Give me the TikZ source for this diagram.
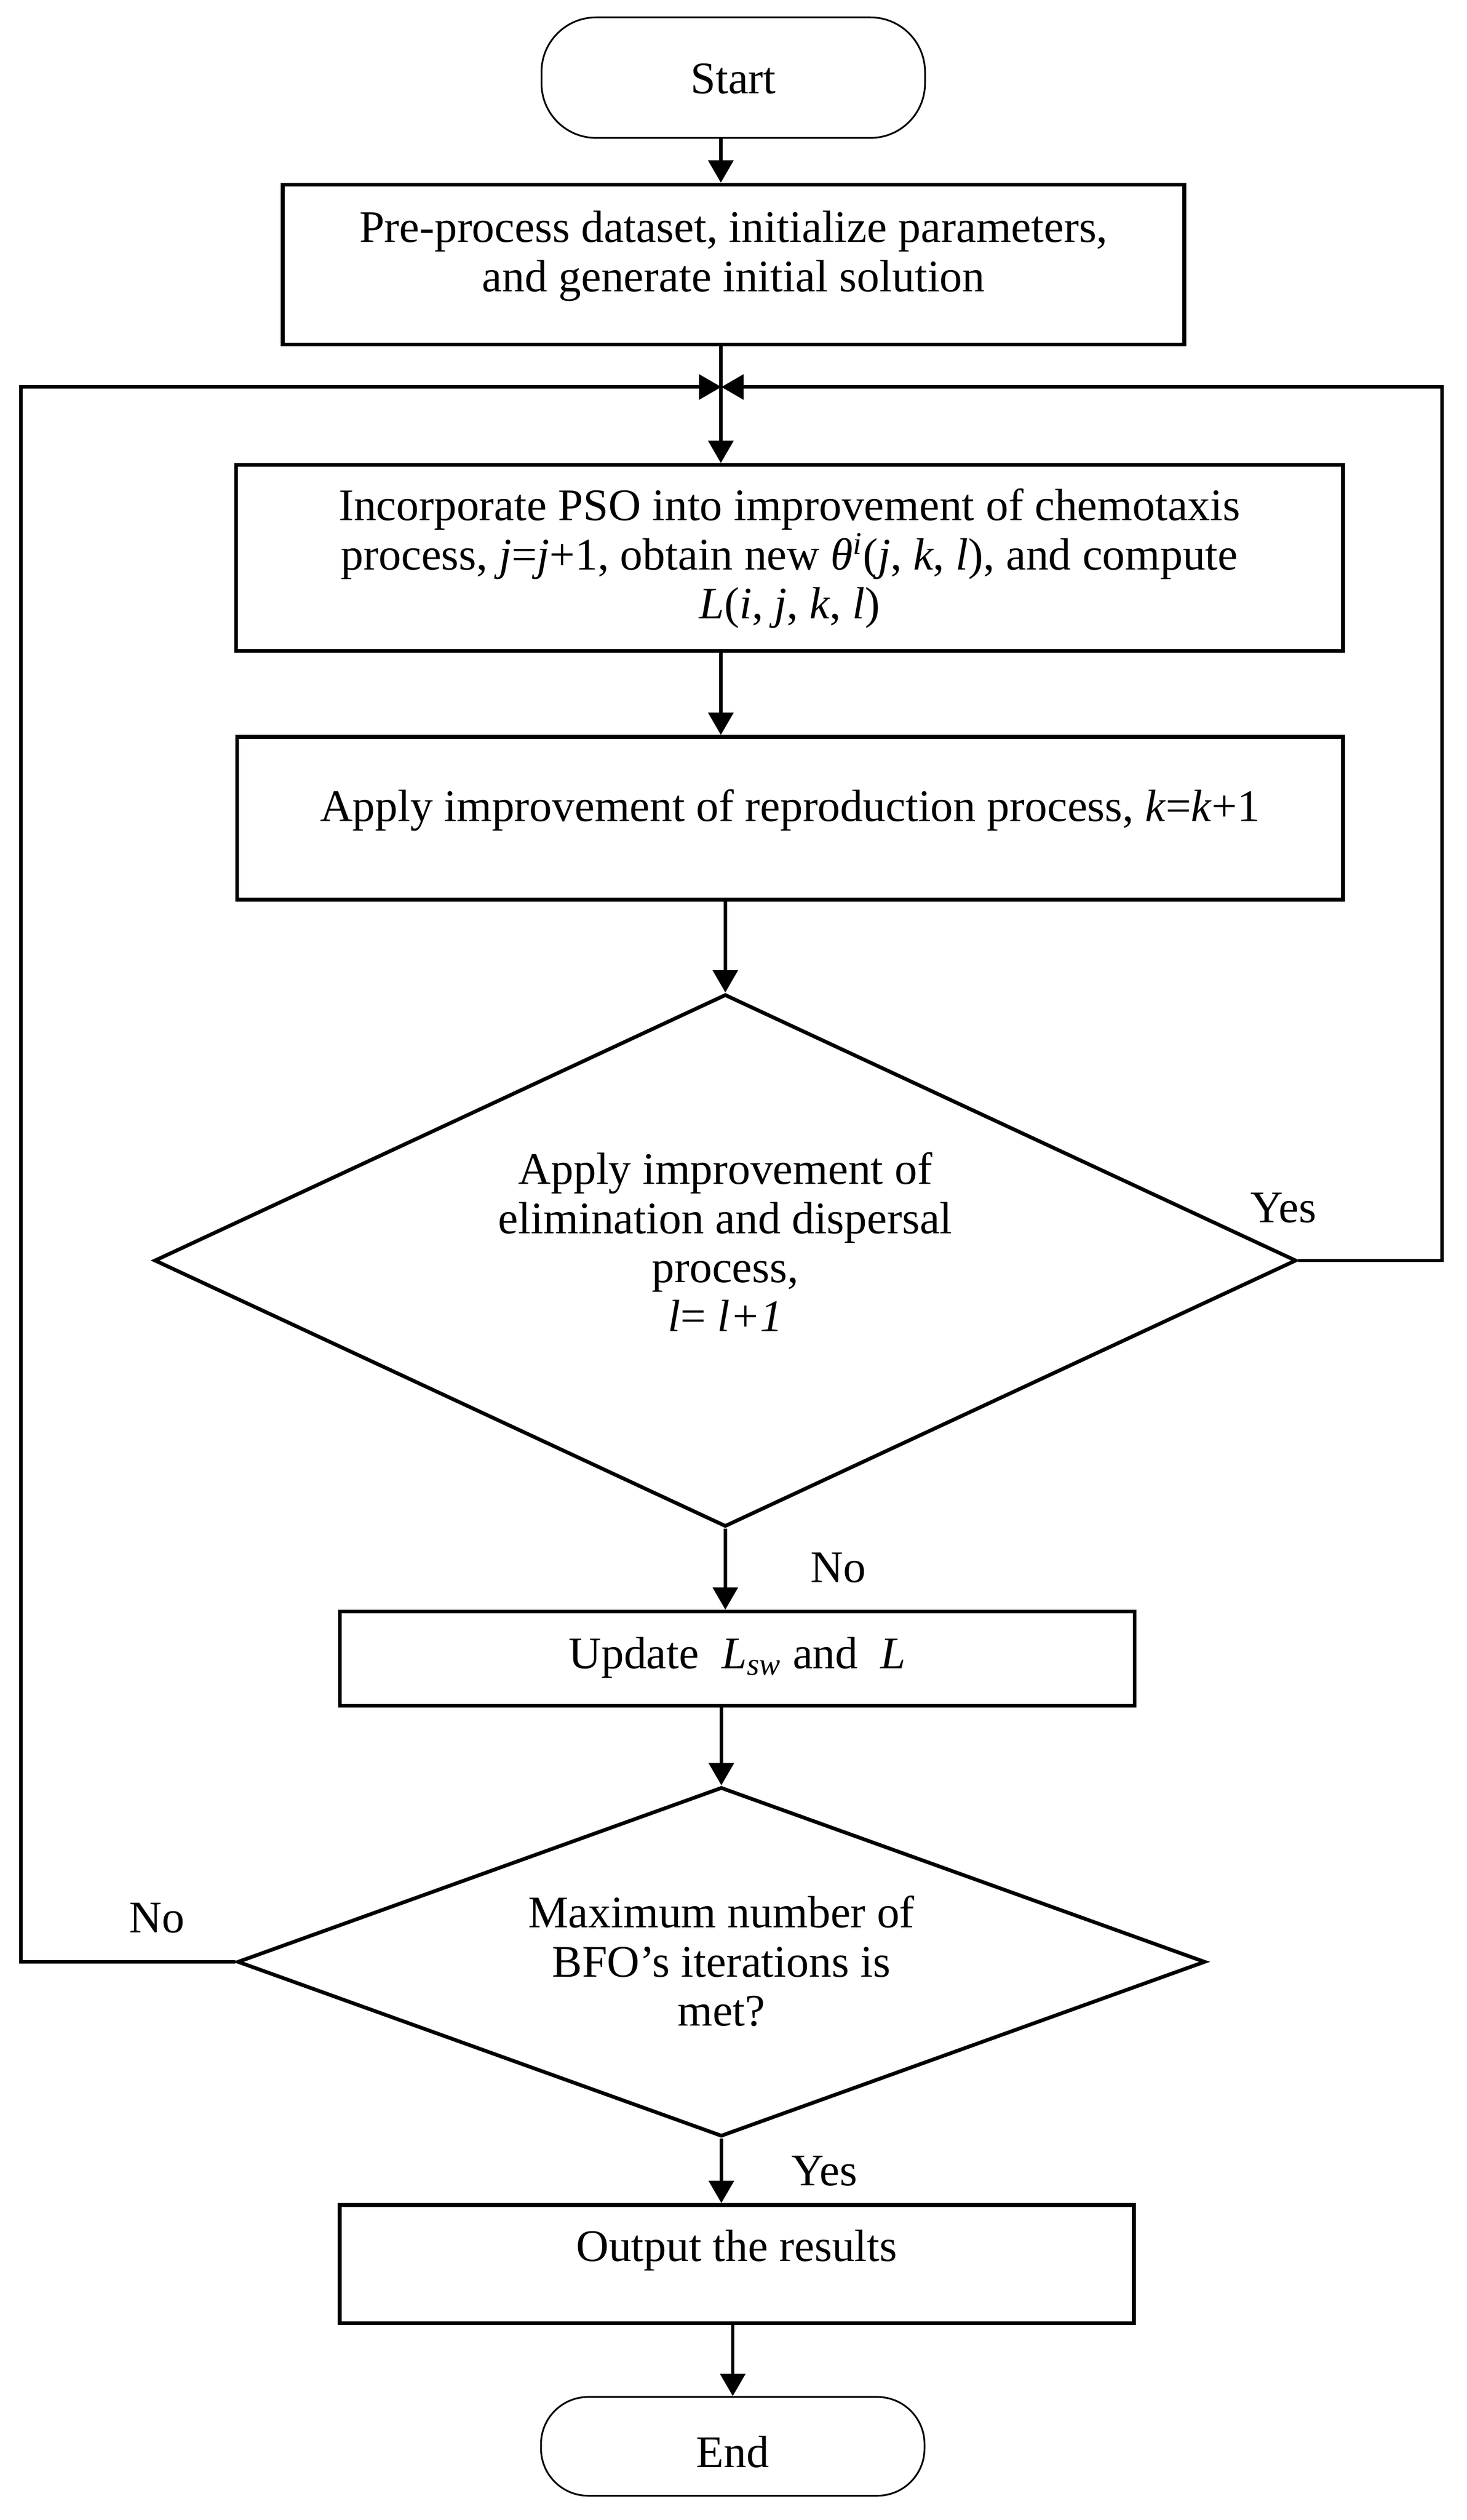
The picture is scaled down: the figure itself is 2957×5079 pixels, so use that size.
\documentclass[tikz,border=0pt]{standalone}
\usepackage{fontspec}
\setmainfont{Liberation Serif}
\usetikzlibrary{shapes.geometric,arrows.meta}
\newcommand{\tx}[2]{\raisebox{#1}[0pt][0pt]{\begin{tabular}{@{}c@{}}#2\end{tabular}}}
\begin{document}
\begin{tikzpicture}[x=0.2pt,y=-0.2pt,
  base/.style={font=\fontsize{18.2pt}{19.8pt}\selectfont, inner sep=0pt},
  term/.style={base, draw, line width=0.7pt, rectangle, rounded corners=22pt,
    minimum width=154.6pt, minimum height=48.6pt},
  proc/.style={base, draw, line width=1.5pt, rectangle},
  dec/.style={base, draw, line width=1.5pt, diamond},
  arr/.style={line width=1.4pt, -{Triangle[length=9pt,width=10pt]}},
  lbl/.style={base, anchor=base}]
\path[use as bounding box, fill=white] (0,0) rectangle (2957,5079);

\node[term] (start) at (1478,156.5) {\tx{-6.69pt}{Start}};
\node[proc, minimum width=363.4pt, minimum height=64.4pt] (box1) at (1478.5,533)
  {\tx{-1.29pt}{Pre-process dataset, initialize parameters,\\ and generate initial solution}};
\node[proc, minimum width=446.2pt, minimum height=75pt] (box2) at (1591.5,1124.5)
  {\tx{-5.09pt}{Incorporate PSO into improvement of chemotaxis\\ process, \textit{j}=\textit{j}+1, obtain new \textit{θ}\smash{\textsuperscript{\textit{i}}}(\textit{j}, \textit{k}, \textit{l}), and compute\\ \textit{L}(\textit{i}, \textit{j}, \textit{k}, \textit{l})}};
\node[proc, minimum width=445.8pt, minimum height=65.6pt] (box3) at (1592.5,1649)
  {\tx{-1.59pt}{Apply improvement of reproduction process, \textit{k}=\textit{k}+1}};
\node[dec, aspect=2.15, minimum width=460.4pt, minimum height=214.6pt] (d1) at (1462,2540.5)
  {\tx{0.71pt}{Apply improvement of\\ elimination and dispersal\\ process,\\ \textit{l}= \textit{l+1}}};
\node[proc, minimum width=320.4pt, minimum height=38pt] (upd) at (1486,3343)
  {\tx{-4.39pt}{Update\ \ \textit{L}\textsubscript{\textit{sw}} and\ \ \textit{L}}};
\node[dec, aspect=2.77, minimum width=390.2pt, minimum height=140.8pt] (d2) at (1454,3954)
  {\tx{-6.39pt}{Maximum number of\\ BFO’s iterations is\\ met?}};
\node[proc, minimum width=320.2pt, minimum height=47.6pt] (out) at (1485,4563)
  {\tx{0.81pt}{Output the results}};
\node[term, minimum height=39.8pt, rounded corners=19pt] (end) at (1477,4930.5)
  {\tx{-8.79pt}{End}};

\coordinate (merge) at (1454,780);
\coordinate (rx) at (2907,0);
\coordinate (lx) at (42,0);
\coordinate (xa) at (1453,0);

\draw[arr] (start.south -| xa) -- (box1.north -| xa);
\draw[arr] (box1.south -| xa) -- (box2.north -| xa);
\draw[arr] (box2.south -| xa) -- (box3.north -| xa);
\draw[arr] (box3.south -| d1.north) -- (d1.north);
\draw[arr] (d1.south) -- (upd.north -| d1.south);
\draw[arr] (upd.south -| d2.north) -- (d2.north);
\draw[arr] (d2.south) -- (out.north -| d2.south);
\draw[arr] (out.south -| end.north) -- (end.north);
\draw[arr] (d1.east) -- (d1.east -| rx) -- (merge -| rx) -- (merge);
\draw[arr] (d2.west) -- (d2.west -| lx) -- (merge -| lx) -- (merge);

\node[lbl] (yes1) at (2587,2464) {Yes};
\node[lbl] (no1) at (1690,3189) {No};
\node[lbl] (no2) at (316,3895) {No};
\node[lbl] (yes2) at (1662,4405) {Yes};
\end{tikzpicture}
\end{document}
